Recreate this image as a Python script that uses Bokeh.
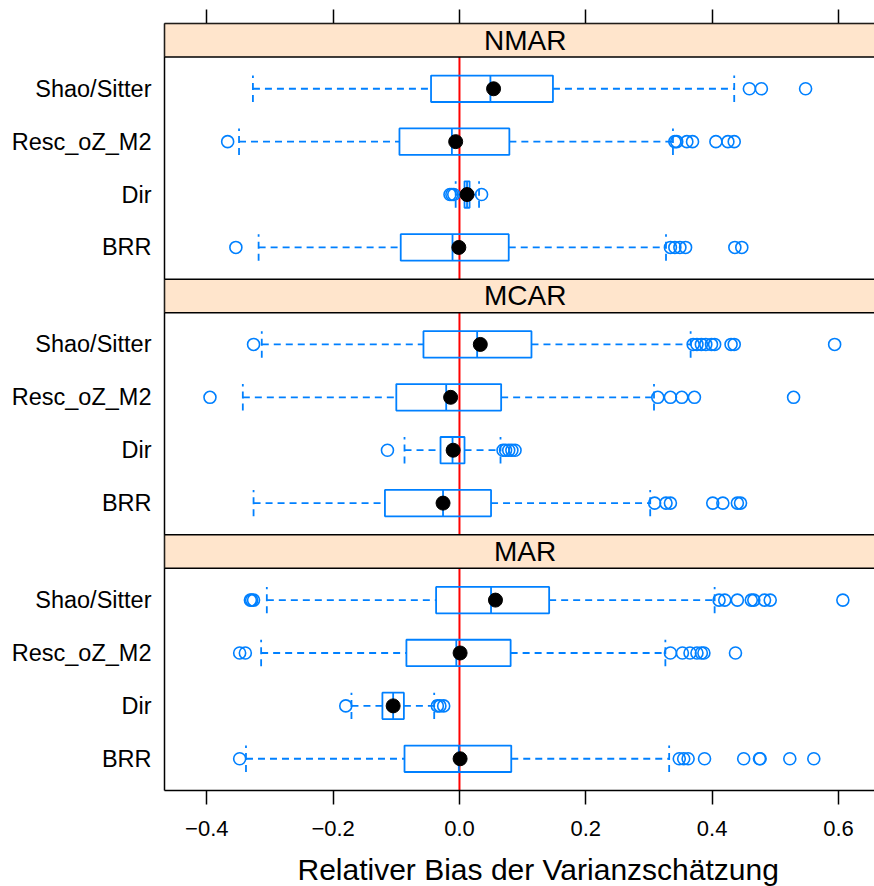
from bokeh.plotting import figure
from bokeh.layouts import column
from bokeh.models import (Range1d, FixedTicker, LinearAxis, Span, BoxAnnotation, Label,
                          CustomLabelingPolicy)
from bokeh.embed import file_html
from bokeh.resources import INLINE

# ---------------- data ----------------
panels = ["NMAR", "MCAR", "MAR"]                      # top to bottom
methods = ["Shao/Sitter", "Resc_oZ_M2", "Dir", "BRR"]  # top to bottom within a panel

# box statistics per method: [lower whisker, Q1, median, Q3, upper whisker]
nmar_stats = [
    [-0.327, -0.045, 0.049, 0.148, 0.435],
    [-0.349, -0.095, -0.012, 0.079, 0.338],
    [-0.006, 0.008, 0.012, 0.016, 0.031],
    [-0.318, -0.093, -0.011, 0.078, 0.327],
]
nmar_means = [0.054, -0.006, 0.012, -0.001]
nmar_outliers = [
    [0.459, 0.478, 0.548],
    [-0.367, 0.341, 0.344, 0.360, 0.369, 0.406, 0.425, 0.435],
    [-0.015, -0.012, -0.009, 0.035],
    [-0.354, 0.334, 0.341, 0.349, 0.358, 0.436, 0.447],
]

mcar_stats = [
    [-0.313, -0.057, 0.028, 0.114, 0.366],
    [-0.343, -0.100, -0.021, 0.066, 0.308],
    [-0.087, -0.030, -0.011, 0.008, 0.065],
    [-0.326, -0.118, -0.026, 0.050, 0.302],
]
mcar_means = [0.033, -0.014, -0.010, -0.026]
mcar_outliers = [
    [-0.326, 0.370, 0.376, 0.383, 0.390, 0.399, 0.404, 0.430, 0.435, 0.594],
    [-0.395, 0.314, 0.334, 0.352, 0.372, 0.529],
    [-0.114, 0.069, 0.073, 0.078, 0.083, 0.088],
    [0.309, 0.327, 0.334, 0.401, 0.417, 0.440, 0.445],
]

mar_stats = [
    [-0.305, -0.037, 0.050, 0.142, 0.404],
    [-0.314, -0.084, -0.005, 0.081, 0.326],
    [-0.171, -0.122, -0.105, -0.088, -0.040],
    [-0.338, -0.087, -0.001, 0.082, 0.332],
]
mar_means = [0.057, 0.001, -0.105, 0.001]
mar_outliers = [
    [-0.331, -0.329, -0.326, 0.411, 0.420, 0.440, 0.462, 0.466, 0.483, 0.492, 0.607],
    [-0.348, -0.339, 0.334, 0.353, 0.365, 0.376, 0.383, 0.387, 0.437],
    [-0.180, -0.035, -0.031, -0.025],
    [-0.348, 0.348, 0.355, 0.362, 0.388, 0.450, 0.475, 0.476, 0.523, 0.561],
]

x_ticks = [-0.4, -0.2, 0.0, 0.2, 0.4, 0.6]
x_tick_labels = ["\u22120.4", "\u22120.2", "0.0", "0.2", "0.4", "0.6"]
x_title = "Relativer Bias der Varianzsch\u00e4tzung"

all_stats = [nmar_stats, mcar_stats, mar_stats]
all_means = [nmar_means, mcar_means, mar_means]
all_outliers = [nmar_outliers, mcar_outliers, mar_outliers]

# ---------------- layout / style ----------------
BLUE = "#0080ff"
STRIP = "#ffe5cc"
FONT = "Liberation Sans"
panel_h = 4.2
strip_h = 0.634
box_h = 0.5
x_lo, x_hi = -0.467, 0.6571
strip_center_x = 0.104
title_center_x = 0.1246
n_pan = len(panels)
y_top = n_pan * (panel_h + strip_h)

xr = Range1d(x_lo, x_hi)
p = figure(width=874, height=846, output_backend="svg", toolbar_location=None,
           x_range=xr, y_range=Range1d(0, y_top),
           min_border_left=164, min_border_right=0, min_border_top=23,
           min_border_bottom=56)
p.grid.visible = False
p.outline_line_color = None
p.background_fill_color = "white"
p.border_fill_color = "white"

# reference line at zero (under the strips)
p.add_layout(Span(location=0, dimension="height", line_color="#ff0000",
                  line_width=2, level="underlay"))

ytick_pos = []
ytick_lab = {}
for pi, name in enumerate(panels):
    bottom = (n_pan - 1 - pi) * (panel_h + strip_h)
    ys = [round(bottom + 0.6 + (len(methods) - 1 - k), 4) for k in range(len(methods))]
    for y, m in zip(ys, methods):
        ytick_pos.append(y)
        ytick_lab[y] = m
    st = all_stats[pi]
    lo = [s[0] for s in st]
    q1 = [s[1] for s in st]
    med = [s[2] for s in st]
    q3 = [s[3] for s in st]
    hi = [s[4] for s in st]
    yb = [y - box_h / 2 for y in ys]
    yt = [y + box_h / 2 for y in ys]
    dash = dict(line_color=BLUE, line_width=1.8, line_dash="7 5")
    # whiskers
    p.segment(x0=lo, x1=q1, y0=ys, y1=ys, **dash)
    p.segment(x0=q3, x1=hi, y0=ys, y1=ys, **dash)
    # whisker caps
    p.segment(x0=lo, x1=lo, y0=yb, y1=yt, **dash)
    p.segment(x0=hi, x1=hi, y0=yb, y1=yt, **dash)
    # boxes and medians
    p.quad(left=q1, right=q3, bottom=yb, top=yt, fill_color=None,
           line_color=BLUE, line_width=1.8)
    p.segment(x0=med, x1=med, y0=yb, y1=yt, line_color=BLUE, line_width=1.8)
    # outliers
    ox, oy = [], []
    for y, outs in zip(ys, all_outliers[pi]):
        ox += outs
        oy += [y] * len(outs)
    p.scatter(x=ox, y=oy, marker="circle", size=12, fill_color=None,
              line_color=BLUE, line_width=1.6)
    # means
    p.scatter(x=all_means[pi], y=ys, marker="circle", size=14,
              fill_color="black", line_color="black")
    # strip
    sb = bottom + panel_h
    p.add_layout(BoxAnnotation(bottom=sb, top=sb + strip_h, right=x_hi + 0.1,
                               fill_color=STRIP, fill_alpha=1.0,
                               line_color="black", line_alpha=1.0, line_width=1.5))
    p.add_layout(Label(x=strip_center_x, y=sb + strip_h / 2, text=name,
                       text_align="center", text_baseline="middle",
                       text_font=FONT, text_font_size="28px", text_color="black"))

# y axis (categories)
ya = p.yaxis[0]
ya.ticker = FixedTicker(ticks=ytick_pos)
ya.major_label_overrides = ytick_lab
ya.major_tick_out = 0
ya.major_tick_in = 0
ya.minor_tick_out = 0
ya.minor_tick_in = 0
ya.axis_line_color = "black"
ya.axis_line_width = 1.5
ya.major_label_standoff = 13
ya.major_label_text_font = FONT
ya.major_label_text_font_size = "23.5px"
ya.major_label_text_color = "black"

# bottom x axis
xa = p.xaxis[0]
xa.ticker = FixedTicker(ticks=x_ticks)
xa.major_label_overrides = dict(zip(x_ticks, x_tick_labels))
xa.major_tick_out = 14
xa.major_tick_in = 0
xa.minor_tick_out = 0
xa.minor_tick_in = 0
xa.major_tick_line_color = "black"
xa.major_tick_line_width = 1.5
xa.axis_line_color = "black"
xa.axis_line_width = 1.5
xa.major_label_standoff = 16
xa.major_label_text_font = FONT
xa.major_label_text_font_size = "22px"
xa.major_label_text_color = "black"

# top x axis (ticks only, no labels)
ta = LinearAxis(ticker=FixedTicker(ticks=x_ticks))
ta.major_label_policy = CustomLabelingPolicy(
    code="for (const i of indices) { indices.unset(i) } return indices")
ta.major_label_text_font_size = "0px"
ta.major_label_standoff = 0
ta.major_tick_out = 14
ta.major_tick_in = 0
ta.minor_tick_out = 0
ta.minor_tick_in = 0
ta.major_tick_line_color = "black"
ta.major_tick_line_width = 1.5
ta.axis_line_color = "black"
ta.axis_line_width = 1.5
p.add_layout(ta, "above")

# x axis title strip beneath the plot (shares the x scale of the panels)
H2 = 40
t = figure(width=874, height=H2, output_backend="svg", toolbar_location=None,
           x_range=xr, y_range=Range1d(0, H2),
           min_border_left=164, min_border_right=0,
           min_border_top=0, min_border_bottom=0)
t.axis.visible = False
t.grid.visible = False
t.outline_line_color = None
t.background_fill_color = "white"
t.border_fill_color = "white"
t.add_layout(Label(x=title_center_x, y=17, text=x_title, text_align="center",
                   text_baseline="middle", text_font=FONT, text_font_size="30px",
                   text_color="black"))

open("out.html", "w").write(file_html(column(p, t, spacing=0), INLINE))
